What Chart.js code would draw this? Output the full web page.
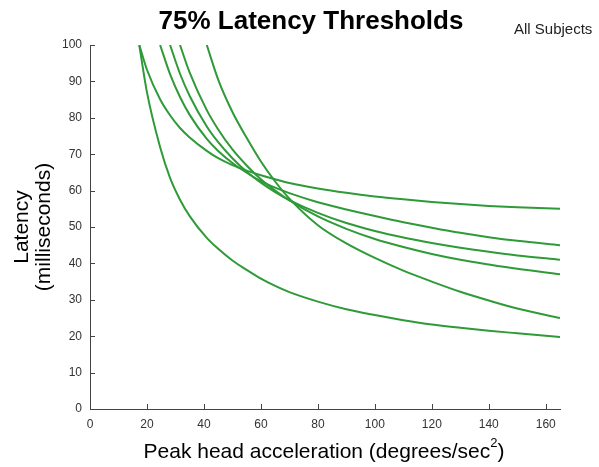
<!DOCTYPE html>
<html>
<head>
<meta charset="utf-8">
<script src="https://cdn.jsdelivr.net/npm/chart.js@4/dist/chart.umd.min.js"></script>
<style>
  html, body { margin: 0; padding: 0; background: #fff; }
  #wrap { width: 599px; height: 467px; position: relative; }
</style>
</head>
<body>
<div id="wrap"><canvas id="chart"></canvas></div>
<script>
// 75% latency thresholds, all subjects
const accel = [17.3, 20, 24.6, 28.1, 31.6, 35, 41, 45, 50, 55, 60, 65, 70, 80, 90, 100, 110, 120, 130, 140, 150, 165];

const subjA = [100, 93.2, 85.1, 80.7, 77.2, 74.6, 70.9, 68.9, 67.0, 65.5, 64.2, 63.1, 62.1, 60.6, 59.4, 58.4, 57.6, 56.9, 56.3, 55.8, 55.4, 55.0];
const subjB = [null, null, 100, 92, 85.7, 80.8, 74.2, 70.9, 67.6, 64.9, 62.6, 60.8, 59.3, 56.8, 54.8, 53.0, 51.3, 49.8, 48.4, 47.2, 46.2, 45.0];
const subjC = [null, null, null, 100, 92.1, 86.0, 77.6, 73.3, 68.9, 65.2, 62.2, 59.6, 57.4, 53.9, 51.1, 48.9, 47.1, 45.6, 44.3, 43.2, 42.2, 41.0];
const subjD = [null, null, null, null, 100, 92.4, 82.1, 76.8, 71.3, 66.9, 63.1, 60.0, 57.3, 52.9, 49.5, 46.7, 44.5, 42.6, 41.0, 39.7, 38.5, 37.0];
const subjE = [null, null, null, null, null, null, 100, 90.5, 81.6, 74.5, 68, 62.5, 57.8, 50.5, 45.5, 41.5, 38, 35, 32.2, 29.8, 27.6, 25.0];
const subjF = [100, 87, 72, 63.5, 57.5, 53, 47, 44, 40.8, 38.2, 35.8, 33.8, 32.1, 29.5, 27.4, 25.8, 24.4, 23.2, 22.3, 21.5, 20.8, 19.8];

const xTicks = [0, 20, 40, 60, 80, 100, 120, 140, 160];
const yTicks = [0, 10, 20, 30, 40, 50, 60, 70, 80, 90, 100];

const titleText = "75% Latency Thresholds";
const noteText = "All Subjects";
const xTitle = "Peak head acceleration (degrees/sec";
const yTitle = ["Latency", "(milliseconds)"];

const green = "#2f9a38";
const axisColor = "#444";
const fam = "'Liberation Sans', Arial, sans-serif";

function toPoints(vals) {
  return accel.map((x, i) => ({ x, y: vals[i] })).filter((p) => p.y !== null);
}

const series = [subjA, subjB, subjC, subjD, subjE, subjF];

// MATLAB-ish extras: inward ticks, titles
const decor = {
  id: "decor",
  afterDraw(chart) {
    const { ctx, chartArea: a, scales } = chart;
    ctx.save();
    ctx.strokeStyle = axisColor;
    ctx.lineWidth = 1;
    ctx.beginPath();
    xTicks.forEach((v) => {
      const px = Math.round(scales.x.getPixelForValue(v)) + 0.5;
      ctx.moveTo(px, a.bottom);
      ctx.lineTo(px, a.bottom - 5);
    });
    yTicks.forEach((v) => {
      const py = Math.round(scales.y.getPixelForValue(v)) + 0.5;
      ctx.moveTo(a.left, py);
      ctx.lineTo(a.left + 5, py);
    });
    ctx.stroke();

    ctx.fillStyle = "#000";
    ctx.textAlign = "center";
    ctx.textBaseline = "alphabetic";
    ctx.font = "bold 26px " + fam;
    ctx.fillText(titleText, 311, 29);

    ctx.fillStyle = "#222";
    ctx.textAlign = "left";
    ctx.font = "15px " + fam;
    ctx.fillText(noteText, 514, 34);

    // x title with superscript 2
    ctx.fillStyle = "#000";
    ctx.font = "21px " + fam;
    const w1 = ctx.measureText(xTitle).width;
    ctx.font = "13px " + fam;
    const w2 = ctx.measureText("2").width;
    ctx.font = "21px " + fam;
    const w3 = ctx.measureText(")").width;
    const sx = 324 - (w1 + w2 + w3) / 2;
    ctx.fillText(xTitle, sx, 458);
    ctx.font = "13px " + fam;
    ctx.fillText("2", sx + w1, 447);
    ctx.font = "21px " + fam;
    ctx.fillText(")", sx + w1 + w2, 458);

    // y title, two lines rotated
    ctx.textAlign = "center";
    ctx.textBaseline = "middle";
    const cy = (a.top + a.bottom) / 2;
    [22, 44].forEach((cx, i) => {
      ctx.save();
      ctx.translate(cx, cy);
      ctx.rotate(-Math.PI / 2);
      ctx.fillText(yTitle[i], 0, 0);
      ctx.restore();
    });
    ctx.restore();
  },
};

new Chart(document.getElementById("chart"), {
  type: "line",
  data: {
    datasets: series.map((s) => ({
      data: toPoints(s),
      borderColor: green,
      borderWidth: 2,
      pointRadius: 0,
      fill: false,
      cubicInterpolationMode: "monotone",
    })),
  },
  options: {
    responsive: true,
    maintainAspectRatio: false,
    animation: false,
    events: [],
    layout: { padding: { left: 0, right: 39, top: 45, bottom: 0 } },
    plugins: { legend: { display: false }, tooltip: { enabled: false }, title: { display: false } },
    scales: {
      x: {
        type: "linear", min: 0, max: 165,
        afterBuildTicks: (s) => { s.ticks = xTicks.map((v) => ({ value: v })); },
        afterFit: (s) => { s.height = 58; },
        grid: { display: false, drawTicks: false },
        border: { display: true, color: axisColor, width: 1 },
        ticks: { color: "#333", padding: 8, maxRotation: 0, font: { family: fam, size: 12 } },
      },
      y: {
        type: "linear", min: 0, max: 100,
        afterBuildTicks: (s) => { s.ticks = yTicks.map((v) => ({ value: v })); },
        afterFit: (s) => { s.width = 90; },
        grid: { display: false, drawTicks: false },
        border: { display: true, color: axisColor, width: 1 },
        ticks: { color: "#333", padding: 8, font: { family: fam, size: 12 } },
      },
    },
  },
  plugins: [decor],
});
</script>
</body>
</html>
